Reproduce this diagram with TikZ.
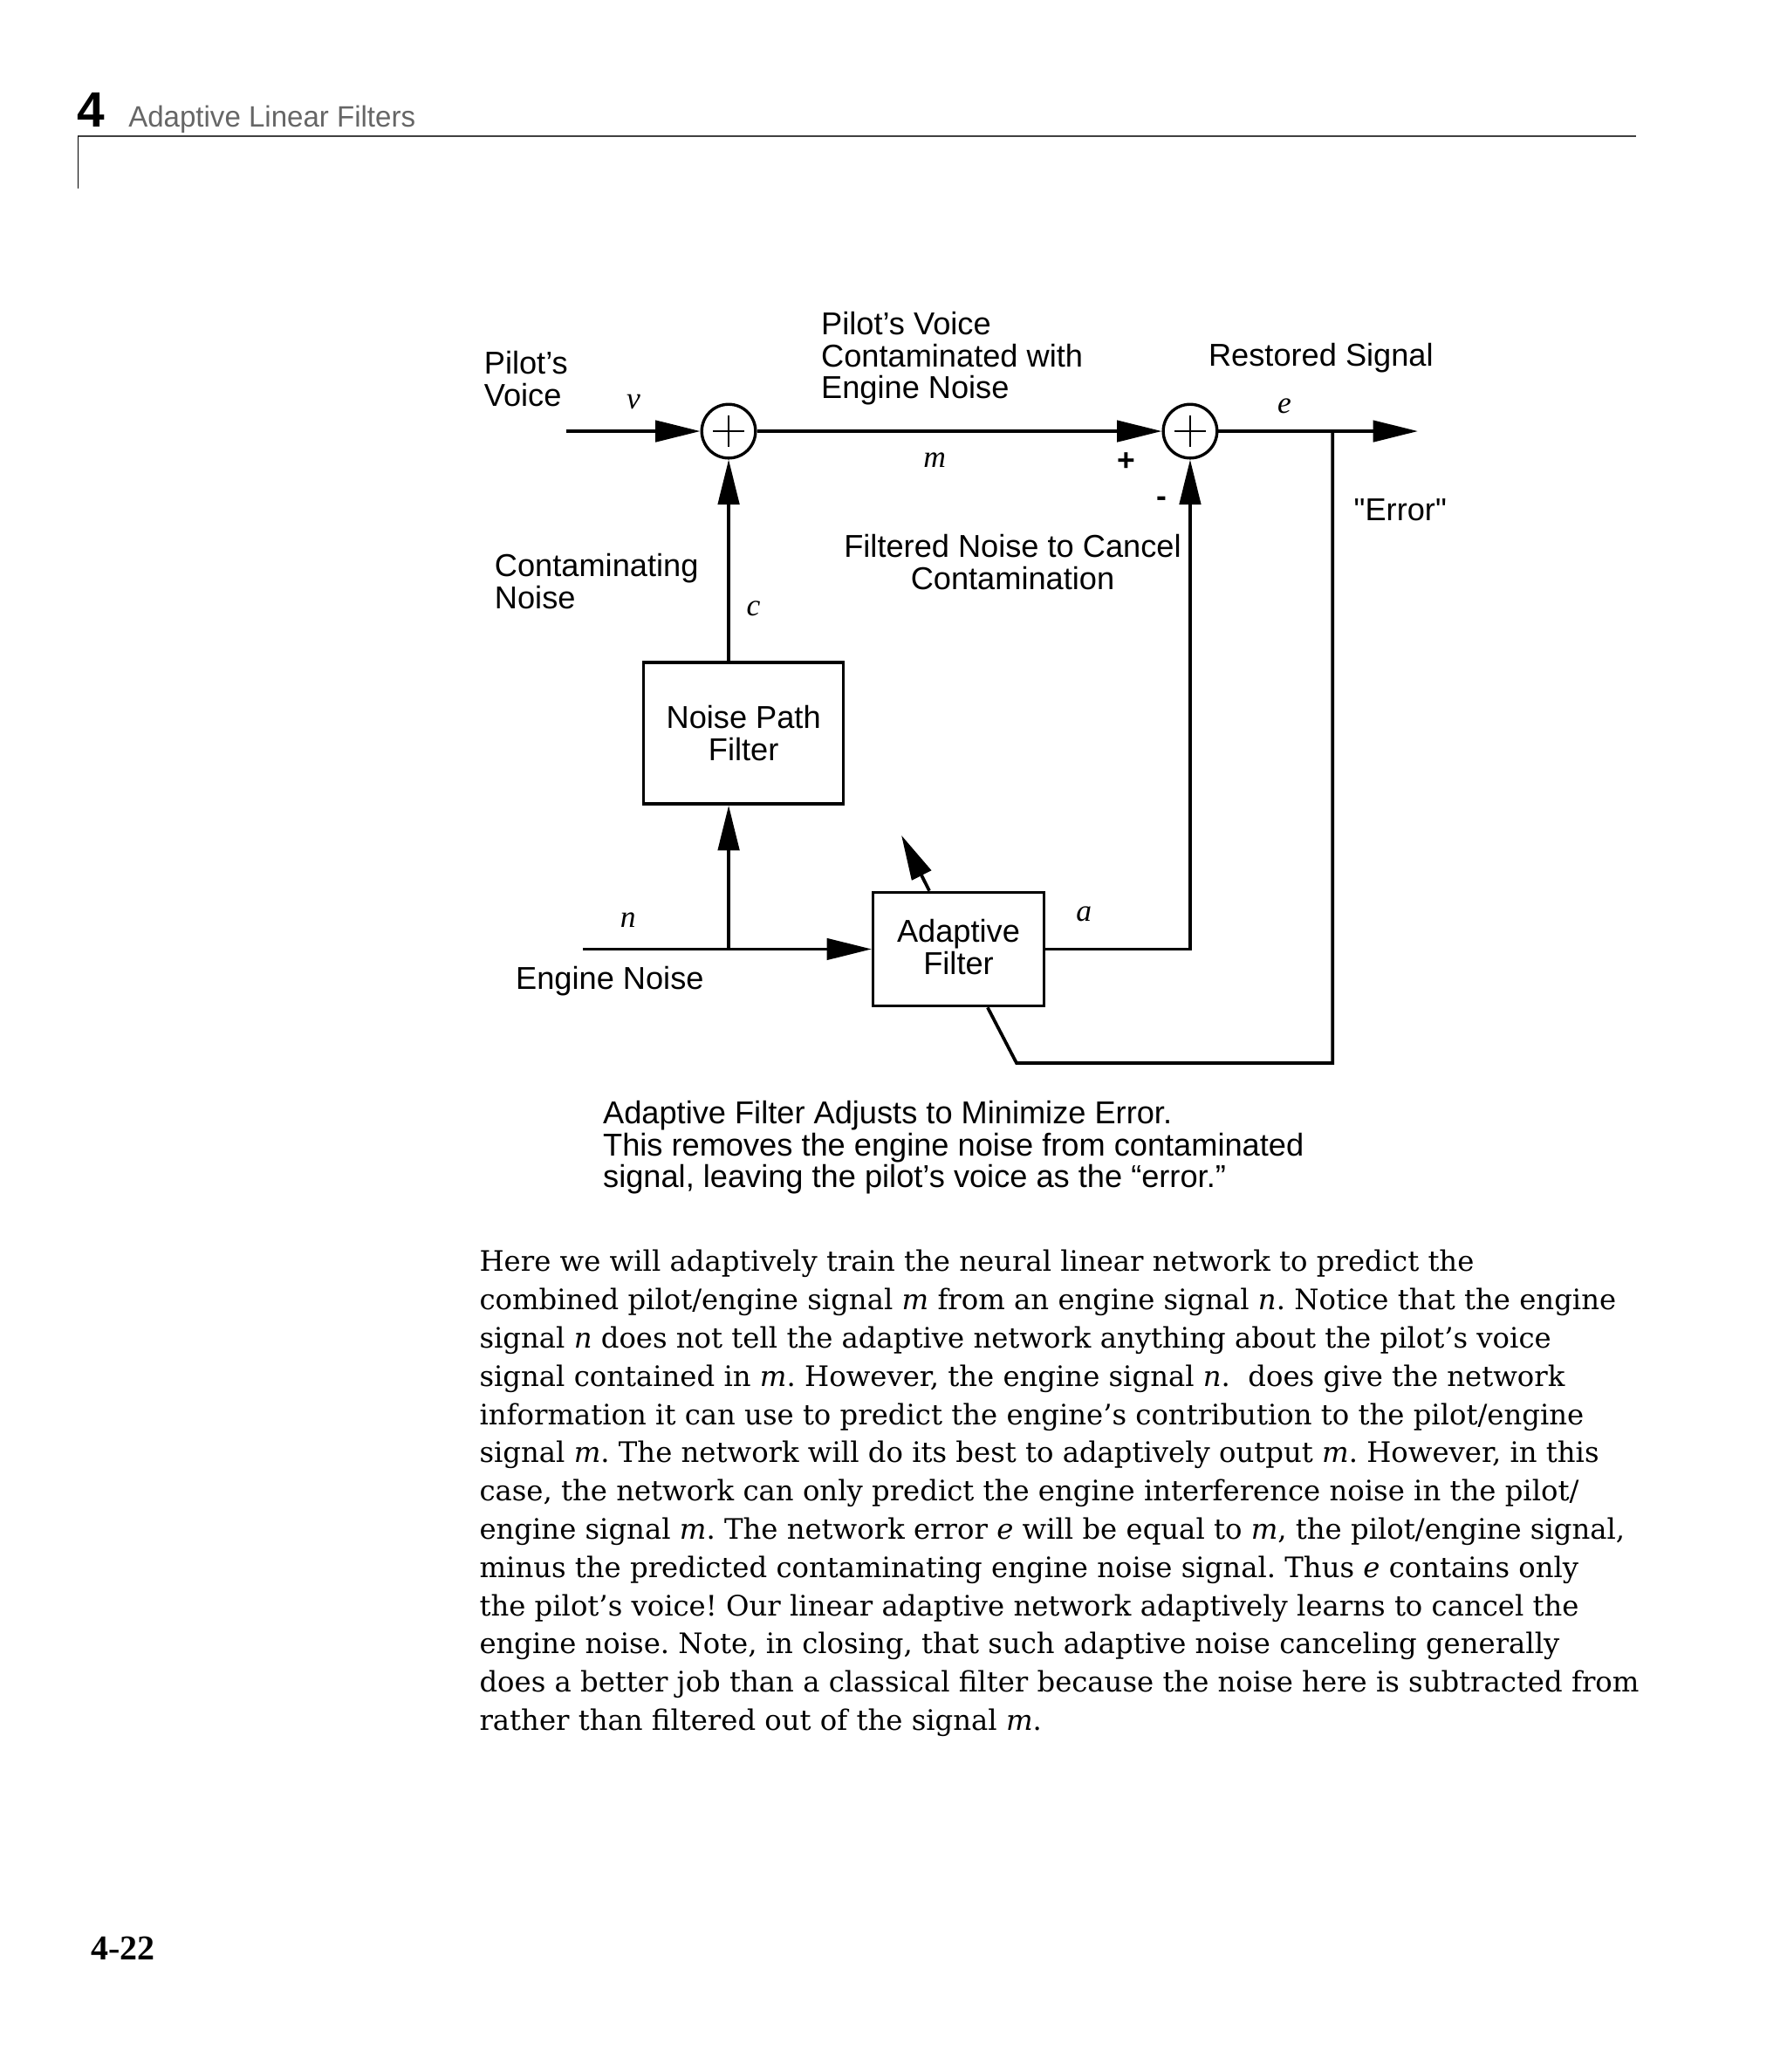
\documentclass[tikz,border=0pt]{standalone}
\usepackage{fontspec}
\setmainfont{DejaVu Serif}
\setsansfont{Liberation Sans}
\newfontfamily\timesfont{Liberation Serif}
\usetikzlibrary{arrows.meta,positioning}

\begin{document}
\begin{tikzpicture}[x=0.03cm, y=-0.03cm,
        lab/.style={inner sep=0pt, font=\sffamily\fontsize{20.4}{20.5}\selectfont},
        sig/.style={inner sep=0pt, font=\timesfont\itshape\fontsize{20}{20}\selectfont},
        wire/.style={line width=2.1pt},
        sigarrow/.style={wire, -{Triangle[length=29pt,width=13.7pt]}},
        sumnode/.style={draw, circle, line width=1.9pt, minimum size=1.22cm, inner sep=0pt,
            path picture={\draw[line width=1.5pt]
                ([xshift=-0.35cm]path picture bounding box.center) -- ([xshift=0.35cm]path picture bounding box.center)
                ([yshift=-0.35cm]path picture bounding box.center) -- ([yshift=0.35cm]path picture bounding box.center);}},
        blockbox/.style={draw, rectangle, line width=1.9pt, align=center, inner sep=0pt,
            font=\sffamily\fontsize{20.4}{20.5}\selectfont}]

    \useasboundingbox (0,0) rectangle (1351.8,1567);

    % page header
    \node[anchor=base west, inner sep=0pt, font=\sffamily\bfseries\fontsize{32}{32}\selectfont] (chapnum) at (58.5,96.2) {4};
    \node[anchor=base west, inner sep=0pt, font=\sffamily\fontsize{19}{19}\selectfont, text=black!60, xscale=0.98] (chaptitle) at (97,96.2) {Adaptive Linear Filters};
    \draw[line width=1pt, black!75] (59,103) -- (1237.5,103);
    \draw[line width=0.8pt] (59,103) -- (59,142.6);

    % summing junctions and filters
    \node[sumnode] (sum1) at (551.2,326.1) {};
    \node[sumnode] (sum2) at (900.3,326.1) {};
    \node[blockbox, minimum width=4.53cm, minimum height=3.21cm] (npf) at (562.5,554.5) {Noise Path\\Filter};
    \node[blockbox, minimum width=3.876cm, minimum height=2.58cm] (adf) at (725.1,717.8) {Adaptive\\Filter\rule[-3pt]{0pt}{0pt}};

    \coordinate (vin) at (428.4,326.1);
    \coordinate (eout) at (1072.6,326.1);
    \coordinate (tap) at (1008,326.1);
    \coordinate (fbcorner) at (1008,804);
    \coordinate (fbfoot) at (769,804);
    \coordinate (nin) at (441,717.8);
    \coordinate (njoin) at (551.2,717.8);
    \coordinate (adjtip) at (681.9,631.7);

    % signal paths
    \draw[sigarrow] (vin) -- (sum1);
    \draw[sigarrow] (sum1) -- (sum2);
    \draw[sigarrow] (sum2) -- (eout);
    \draw[sigarrow] (npf.north -| sum1) -- (sum1);
    \draw[sigarrow] (nin) -- (adf.west);
    \draw[sigarrow] (njoin) -- (npf.south -| njoin);
    \draw[sigarrow] (adf.east) -| (sum2);
    \draw[wire] (tap) -- (fbcorner) -- (fbfoot) -- ([xshift=0.66cm]adf.south);
    \draw[sigarrow] ([xshift=-0.663cm]adf.north) -- (adjtip);

    % labels
    \node[lab, anchor=north west, align=left] (pvlab) at (366,265.4) {Pilot’s\\Voice};
    \node[lab, anchor=north west, align=left] (pcelab) at (621,235.9) {Pilot’s Voice\\Contaminated with\\Engine Noise};
    \node[lab, anchor=base west] (rslab) at (914,276.8) {Restored Signal};
    \node[lab, anchor=base west] (errlab) at (1024,394) {\textquotedbl Error\textquotedbl};
    \node[lab, anchor=north west, align=left] (cnlab) at (374,418.5) {Contaminating\\Noise};
    \node[lab, anchor=north, align=center] (fnlab) at (766,404.2) {Filtered Noise to Cancel\\Contamination};
    \node[lab, anchor=base west] (enlab) at (390,748) {Engine Noise};
    \node[lab, anchor=north west, align=left] (caplab) at (456,832.4) {Adaptive Filter Adjusts to Minimize Error.\\This removes the engine noise from contaminated\\signal, leaving the pilot’s voice as the “error.”};
    \node[lab, font=\sffamily\bfseries\fontsize{20}{20}\selectfont] (plus) at (852,349) {+};
    \node[lab, font=\sffamily\bfseries\fontsize{20}{20}\selectfont] (minus) at (879,379.5) {-};

    \node[sig] (vlab) at (479.2,304) {v};
    \node[sig] (mlab) at (707,348) {m};
    \node[sig] (elab) at (971.6,307) {e};
    \node[sig] (clab) at (570,460) {c};
    \node[sig] (nlab) at (475,696) {n};
    \node[sig] (alab) at (820,691) {a};

    % body text
    \foreach \txt [count=\i] in {
        {Here we will adaptively train the neural linear network to predict the},
        {combined pilot/engine signal \textit{m} from an engine signal \textit{n}. Notice that the engine},
        {signal \textit{n} does not tell the adaptive network anything about the pilot’s voice},
        {signal contained in \textit{m}. However, the engine signal \textit{n}.\ \ does give the network},
        {information it can use to predict the engine’s contribution to the pilot/engine},
        {signal \textit{m}. The network will do its best to adaptively output \textit{m}. However, in this},
        {case, the network can only predict the engine interference noise in the pilot/},
        {engine signal \textit{m}. The network error \textit{e} will be equal to \textit{m}, the pilot/engine signal,},
        {minus the predicted contaminating engine noise signal. Thus \textit{e} contains only},
        {the pilot’s voice! Our linear adaptive network adaptively learns to cancel the},
        {engine noise. Note, in closing, that such adaptive noise canceling generally},
        {does a better job than a classical filter because the noise here is subtracted from},
        {rather than filtered out of the signal \textit{m}.}}
        \node[anchor=base west, inner sep=0pt, font=\frenchspacing\fontsize{18.2}{24.7}\selectfont] (body\i) at (362.5,{961.7+28.9*(\i-1)}) {\txt};

    \node[anchor=base west, inner sep=0pt, font=\timesfont\bfseries\fontsize{22.5}{22.5}\selectfont] (pagenum) at (68.5,1482) {4-22};
\end{tikzpicture}
\end{document}
